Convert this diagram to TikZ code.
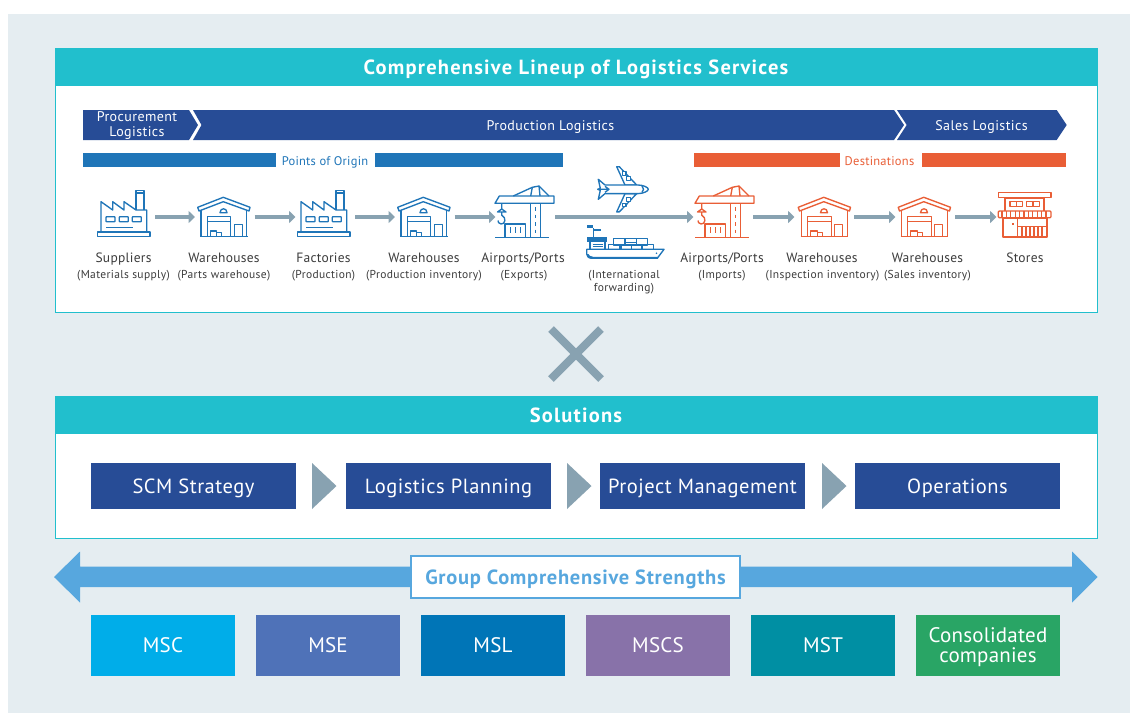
\documentclass[tikz,border=0pt]{standalone}
\usepackage{fontspec}
\setmainfont{PT Sans}
\usetikzlibrary{arrows.meta}

\definecolor{pagebg}{HTML}{E5EDF1}
\definecolor{headteal}{HTML}{21BFCD}
\definecolor{navy}{HTML}{274C96}
\definecolor{flowgray}{HTML}{88A2B1}
\definecolor{iconblue}{HTML}{1F75B8}
\definecolor{iconorange}{HTML}{E95E36}
\definecolor{groupblue}{HTML}{57A7DE}
\definecolor{labelgray}{HTML}{3C3C3C}

\tikzset{
	iconline/.style={draw=#1, line width=1.35pt, line join=round},
	iconbox/.style={minimum width=60pt, minimum height=40pt, inner sep=0pt, outer sep=0pt},
	flowarrow/.style={draw=flowgray, line width=4.4pt, shorten <=1pt, shorten >=-1.5pt, -{Triangle[length=6.5pt,width=12pt]}},
	headbar/.style={fill=headteal, text=white, inner sep=0pt, minimum width=1043pt, minimum height=38.5pt, text height=14pt, text depth=0pt, font=\fontsize{20.5}{23}\selectfont\bfseries\addfontfeature{LetterSpace=6}},
	chevtext/.style={text=white, align=center, inner sep=0pt, font=\fontsize{14}{14.3}\selectfont\addfontfeature{LetterSpace=3}},
	barlabel/.style={anchor=base, inner sep=0pt, font=\fontsize{12.5}{14}\selectfont\addfontfeature{LetterSpace=2}},
	namelabel/.style={anchor=base, text=labelgray, inner sep=0pt, font=\fontsize{13.5}{15}\selectfont\addfontfeature{LetterSpace=2}},
	sublabel/.style={text=labelgray, inner sep=0pt, align=center, font=\fontsize{11.5}{13}\selectfont\addfontfeature{LetterSpace=3}},
	stepbox/.style={fill=navy, text=white, inner sep=0pt, minimum width=205pt, minimum height=46pt, text height=14.4pt, text depth=0pt, font=\fontsize{20.5}{24}\selectfont\addfontfeature{LetterSpace=2.5}},
	groupbox/.style={text=white, inner sep=0pt, outer sep=0pt, align=center, minimum width=144pt, minimum height=61pt, font=\fontsize{21}{20.5}\selectfont\addfontfeature{LetterSpace=1}},
	pics/factory/.style={code={
		\draw[iconline=#1] (-26.5,15) rectangle (26,19.5);
		\draw[iconline=#1] (-23,15) -- (-23,-15.3) -- (-11.3,-7) -- (-11.3,-15.3) -- (0,-7) -- (0,-15.3) -- (12,-7) -- (22.7,-7) -- (22.7,15);
		\draw[iconline=#1] (12,-7) -- (12,-26.3) -- (20,-26.3) -- (20,-7);
		\draw[iconline=#1] (12,-24) -- (20,-24);
		\foreach \wx in {-18,-4.7,8.3}
			\draw[iconline=#1, rounded corners=0.6pt] (\wx,-0.3) rectangle (\wx+9,4.7);
		\draw[iconline=#1] (-18,10.3) -- (9.3,10.3);
	}},
	pics/warehouse/.style={code={
		\draw[iconline=#1] (-25.8,-9.7) -- (-0.2,-19.7) -- (26.5,-9.7) -- (25.5,-6) -- (-0.2,-15.3) -- (-24.5,-6) -- cycle;
		\draw[iconline=#1] (-22.5,-7) -- (-22.5,19.7) (23.2,-7) -- (23.2,19.7);
		\draw[iconline=#1] (-23.5,19.7) -- (24.2,19.7);
		\draw[iconline=#1] (-16.2,19.7) -- (-16.2,-0.3) -- (7.2,-0.3) -- (7.2,19.7) (-16.2,4.7) -- (7.2,4.7);
		\draw[iconline=#1] (10.8,19.7) -- (10.8,7.3) -- (18.8,7.3) -- (18.8,19.7);
		\draw[iconline=#1] (-13.2,19.7) -- (-13.2,14) -- (-6.8,14) -- (-6.8,19.7) (-6.8,15.7) -- (-1.8,15.7) -- (-1.8,19.7);
		\draw[iconline=#1] (-3.5,-4.3) .. controls (-3.5,-9.5) and (3.5,-9.5) .. (3.5,-4.3) -- cycle;
	}},
	pics/crane/.style={code={
		\draw[iconline=#1] (-29,-13.7) -- (-24.7,-21) -- (30,-21) -- (30,-13.7) -- cycle;
		\draw[iconline=#1] (-10.7,-21) -- (8.3,-29.7) -- (15,-31) -- (25,-21);
		\draw[iconline=#1] (8.3,-29.7) -- (6.7,-21) (15,-31) -- (16,-21);
		\draw[iconline=#1] (6.7,-13.7) -- (6.7,20) (16.7,-13.7) -- (16.7,20);
		\draw[iconline=#1, dash pattern=on 3.5pt off 4pt] (11.7,-10) -- (11.7,17);
		\draw[iconline=#1] (-29,20.3) -- (25.3,20.3);
		\draw[iconline=#1] (-19,20) -- (-19,7) -- (1.7,7) -- (1.7,20);
		\foreach \sx in {-13.3,-8.3,-3.3}
			\draw[iconline=#1] (\sx,10.3) -- (\sx,15.7);
		\draw[iconline=#1] (-22.3,-13.7) -- (-22.3,-8) (-26.5,-5) -- (-22.3,-8) -- (-18,-5) -- cycle;
		\draw[iconline=#1] (-22.3,-5) -- (-22.3,-2) .. controls (-17,1) and (-19,7.5) .. (-23,7) .. controls (-25.5,6.5) and (-26,5) .. (-26,3.5);
	}},
	pics/plane/.style={code={
		\draw[iconline=#1, fill=white] (-6.3,-22.6) -- (-3.7,-22.6) -- (13.7,-4.3) -- (2,-4.3) -- cycle;
		\draw[iconline=#1, fill=white] (-6.3,22.6) -- (-3.7,22.6) -- (13.7,4.3) -- (2,4.3) -- cycle;
		\draw[iconline=#1, fill=white] (3.5,-12.5) rectangle (7.5,-8.5) (3.5,8.5) rectangle (7.5,12.5);
		\draw[iconline=#1, fill=white] (-0.5,-17.5) rectangle (3,-14) (-0.5,14) rectangle (3,17.5);
		\draw[iconline=#1, fill=white] (-18,-4.3) -- (15,-4.3) .. controls (20,-4.3) and (25.3,-2) .. (25.3,0) .. controls (25.3,2) and (20,4.3) .. (15,4.3) -- (-18,4.3) -- (-24.7,10) -- (-22.7,1) -- (-25.3,0) -- (-22.7,-1) -- (-24.7,-10) -- cycle;
		\draw[iconline=#1] (-24,0) -- (-14,0) (-18,-3) -- (-14,0) -- (-18,3);
		\draw[iconline=#1] (19,-3.2) .. controls (21,-1.5) and (21,1.5) .. (19,3.2);
	}},
	pics/ship/.style={code={
		\draw[iconline=#1] (-38.3,-0.7) -- (39,-0.7) -- (32.3,8.3) -- (-33.3,8.3) .. controls (-36.5,8.3) and (-38.3,6) .. (-38.3,4) -- cycle;
		\fill[#1] (-38.3,4) .. controls (-38.3,6) and (-36.5,8.3) .. (-33.3,8.3) -- (32.3,8.3) -- (33.5,6.8) -- (-32,6.8) .. controls (-35,6.8) and (-36,5) .. (-36.5,4) -- cycle;
		\fill[#1] (31.5,3.3) circle (0.9);
		\fill[#1] (-37.7,-12.7) rectangle (-17.7,-8.3);
		\draw[iconline=#1] (-35,-8.3) rectangle (-20,-0.7);
		\draw[iconline=#1] (-32.5,-5.5) -- (-22.5,-5.5) (-32.5,-3.5) -- (-22.5,-3.5);
		\draw[iconline=#1] (-31.7,-22) -- (-31.7,-12.7);
		\fill[#1] (-37.7,-25.3) rectangle (-31.7,-22);
		\fill[#1] (-31.7,-20.7) rectangle (-24.3,-19.3);
		\foreach \ax/\ay/\bx/\by in {-11.7/-11.7/0/-5,0.7/-11.7/11.7/-7.3,11.7/-11.7/22.3/-5,-16.7/-5.7/-5/-0.7,-3.3/-5/6.7/-0.7,6.7/-5/16.7/-0.7,17.7/-5.7/28.3/-0.7}
			\draw[iconline=#1] (\ax,\ay) rectangle (\bx,\by);
	}},
	pics/store/.style={code={
		\draw[iconline=#1] (-26.7,-24.7) rectangle (26,-19.7);
		\draw[iconline=#1, line width=2.2pt] (-20,-6) -- (-20,-19) -- (19.3,-19) -- (19.3,-6);
		\draw[iconline=#1] (-15,-15.3) rectangle (-2.3,-10.3) (-8.6,-15.3) -- (-8.6,-10.3);
		\draw[iconline=#1] (1.7,-15.3) rectangle (14.3,-10.3) (8,-15.3) -- (8,-10.3);
		\draw[iconline=#1, rounded corners=1pt] (-26.7,-6) rectangle (26,0.7);
		\foreach \ax in {-23,-18.6,...,24}
			\draw[iconline=#1] (\ax,-6) -- (\ax,0.7);
		\draw[iconline=#1, line width=2.2pt] (-22.3,0.7) rectangle (21.7,19.7);
		\draw[iconline=#1] (-7.7,0.7) -- (-7.7,19.7) (-7.7,9.7) -- (21.7,9.7);
		\foreach \ax in {-3,1,...,18}
			\draw[iconline=#1] (\ax,9.7) -- (\ax,19.7);
		\fill[#1] (-13.3,6) rectangle (-11.3,8);
	}},
}

\begin{document}
\begin{tikzpicture}[x=1pt, y=-1pt]
	\useasboundingbox (0,0) rectangle (1130,713);
	\fill[pagebg] (8,14) rectangle (1130,713);

	% Services frame
	\draw[fill=white, draw=headteal, line width=1pt] (55,60) rectangle (1097,312);
	\node[headbar] (servicehead) at (576,67.2) {Comprehensive Lineup of Logistics Services};

	% Chevrons
	\fill[navy] (83,110) -- (189,110) -- (198,125) -- (189,140) -- (83,140) -- cycle;
	\fill[navy] (193,110) -- (894,110) -- (904,125) -- (894,140) -- (193,140) -- (201.5,125) -- cycle;
	\fill[navy] (897,110) -- (1056.7,110) -- (1066.7,125) -- (1056.7,140) -- (897,140) -- (906.7,125) -- cycle;
	\node[chevtext] (procure) at (137,125.5) {Procurement\\Logistics};
	\node[chevtext, anchor=base] (production) at (550.5,130) {Production Logistics};
	\node[chevtext, anchor=base] (sales) at (981.5,130) {Sales Logistics};

	% Origin and destination bars
	\fill[iconblue] (83,153) rectangle (275.5,166.7);
	\fill[iconblue] (375,153) rectangle (562.5,166.7);
	\fill[iconorange] (694.3,153) rectangle (839.7,166.7);
	\fill[iconorange] (922,153) rectangle (1065.5,166.7);
	\node[barlabel, text=iconblue] (origin) at (325,165) {Points of Origin};
	\node[barlabel, text=iconorange] (destin) at (879.5,165) {Destinations};

	% Icons
	\foreach \n/\x in {suppliers/124,partswh/223.5,factories/324,prodwh/423.5,exports/524,imports/722,inspectwh/823,saleswh/924,stores/1025}
		\node[iconbox] (\n) at (\x,217) {};
	\pic at (124,217) {factory=iconblue};
	\pic at (223.5,217) {warehouse=iconblue};
	\pic at (324,217) {factory=iconblue};
	\pic at (423.5,217) {warehouse=iconblue};
	\pic at (524,217) {crane=iconblue};
	\pic at (623,189.3) {plane=iconblue};
	\pic at (625,250) {ship=iconblue};
	\pic at (724,217) {crane=iconorange};
	\pic at (824,217) {warehouse=iconorange};
	\pic at (924,217) {warehouse=iconorange};
	\pic at (1025,217) {store=iconorange};
	\foreach \a/\b in {suppliers/partswh,partswh/factories,factories/prodwh,prodwh/exports,exports/imports,imports/inspectwh,inspectwh/saleswh,saleswh/stores}
		\draw[flowarrow] (\a) -- (\b);

	% Labels
	\foreach \n/\x/\t in {a/123.5/Suppliers,b/224/Warehouses,c/323.5/Factories,d/424/Warehouses,e/523/Airports\slash Ports,f/722/Airports\slash Ports,g/822/Warehouses,h/927.5/Warehouses,i/1025/Stores}
		\node[namelabel] (name\n) at (\x,262) {\t};
	\foreach \n/\x/\t in {a/123.5/(Materials supply),b/224/(Parts warehouse),c/323.5/(Production),d/424/(Production inventory),e/524/(Exports),f/722/(Imports),g/822.5/(Inspection inventory),h/927.5/(Sales inventory)}
		\node[sublabel, anchor=base] (sub\n) at (\x,278) {\t};
	\node[sublabel] (subship) at (624,282) {(International\\forwarding)};

	% Cross
	\draw[flowgray, line width=8pt] (551,329) -- (601,379) (601,329) -- (551,379);

	% Solutions frame
	\draw[fill=white, draw=headteal, line width=1pt] (55,410) rectangle (1097,538);
	\node[headbar] (solutionhead) at (576,415) {Solutions};
	\foreach \n/\x/\t in {scm/193.5/SCM Strategy,plan/448.5/Logistics Planning,pm/702.5/Project Management,ops/957.5/Operations}
		\node[stepbox] (\n) at (\x,486) {\t};
	\foreach \a in {312,567,822}
		\fill[flowgray] (\a,463) -- (\a+24.5,486) -- (\a,509) -- cycle;

	% Group strengths
	\fill[groupblue] (54,577) -- (80,551.5) -- (80,566.7) -- (1072,566.7) -- (1072,551.5) -- (1097.5,577) -- (1072,602.5) -- (1072,587) -- (80,587) -- (80,602.5) -- cycle;
	\node[draw=groupblue, fill=white, line width=2.5pt, text=groupblue, inner sep=0pt, minimum width=329pt, minimum height=42pt, text height=14pt, text depth=0pt, font=\fontsize{20.5}{23}\selectfont\bfseries\addfontfeature{LetterSpace=3.5}] (groupname) at (575.5,577) {Group Comprehensive Strengths};
	\foreach \n/\x/\c/\t in {msc/163/00ADE9/MSC,mse/328/4F72B8/MSE,msl/493/0075B7/MSL,mscs/658/8872A9/MSCS,mst/823/008FA3/MST}{
		\definecolor{groupfill}{HTML}{\c}
		\node[groupbox, fill=groupfill] (\n) at (\x,645.5) {\t};
	}
	\definecolor{groupfill}{HTML}{29A565}
	\node[groupbox, fill=groupfill, text height=38.6pt] (consol) at (988,645.5) {Consolidated\\companies};
\end{tikzpicture}
\end{document}
